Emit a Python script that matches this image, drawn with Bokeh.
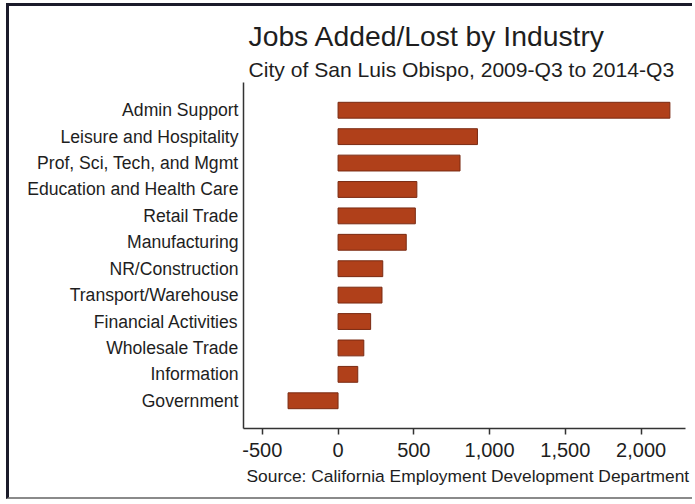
from bokeh.plotting import figure
from bokeh.models import (FactorRange, Range1d, FixedTicker, NumeralTickFormatter,
                          Title, ColumnDataSource)
from bokeh.embed import file_html
from bokeh.resources import INLINE

industries = ["Admin Support", "Leisure and Hospitality", "Prof, Sci, Tech, and Mgmt",
              "Education and Health Care", "Retail Trade", "Manufacturing",
              "NR/Construction", "Transport/Warehouse", "Financial Activities",
              "Wholesale Trade", "Information", "Government"]
jobs = [2190, 920, 805, 520, 510, 450, 295, 290, 215, 170, 130, -330]
x_ticks = [-500, 0, 500, 1000, 1500, 2000]

FONT = "Liberation Sans"
TEXT = "#1e1e1e"
BAR = "#b0401a"

src = ColumnDataSource(dict(industry=industries, jobs=jobs))

# page offsets for the scanned frame border (left 6px margin + 3px border, top 3+3)
OX, OY = 9, 6

p = figure(width=695 - OX, height=504 - OY - 2, output_backend="svg",
           toolbar_location=None,
           y_range=FactorRange(factors=industries[::-1], range_padding=0.55,
                               range_padding_units="absolute"),
           x_range=Range1d(-624, 2293),
           min_border_left=243 - OX, min_border_right=10, min_border_top=82 - OY,
           min_border_bottom=502 - 428,
           styles={"margin-left": "6px", "margin-top": "3px",
                   "border-left": "3px solid #1b1b2a",
                   "border-top": "3px solid #1b1b2a",
                   "border-bottom": "2px solid #8a8a8a"})

p.hbar(y="industry", left=0, right="jobs", height=0.6, source=src,
       fill_color=BAR, line_color="#7a2a12", line_width=1)

sub = Title(text="City of San Luis Obispo, 2009-Q3 to 2014-Q3", align="left",
            offset=5, text_font=FONT, text_font_size="21.1px",
            text_font_style="normal", text_color=TEXT, standoff=4)
main = Title(text="Jobs Added/Lost by Industry", align="left", offset=5,
             text_font=FONT, text_font_size="28.3px", text_font_style="normal",
             text_color=TEXT, standoff=4)
p.add_layout(sub, "above")
p.add_layout(main, "above")

src_title = Title(text="Source: California Employment Development Department",
                  align="left", offset=3, text_font=FONT, text_font_size="17.4px",
                  text_font_style="normal", text_color=TEXT, standoff=8)
p.add_layout(src_title, "below")

p.xgrid.visible = False
p.ygrid.visible = False
p.outline_line_color = None
p.background_fill_color = "white"
p.border_fill_color = "white"

xa = p.xaxis[0]
xa.ticker = FixedTicker(ticks=x_ticks)
xa.formatter = NumeralTickFormatter(format="0,0")
xa.major_tick_in = 0
xa.major_tick_out = 6
xa.minor_tick_line_color = None
xa.axis_line_color = "#333333"
xa.axis_line_width = 1.5
xa.major_tick_line_color = "#333333"
xa.major_tick_line_width = 1.5
xa.major_label_text_font = FONT
xa.major_label_text_font_size = "20px"
xa.major_label_text_color = TEXT
xa.major_label_standoff = 8

ya = p.yaxis[0]
ya.major_tick_in = 0
ya.major_tick_out = 0
ya.minor_tick_line_color = None
ya.axis_line_color = "#333333"
ya.axis_line_width = 1.5
ya.major_label_text_font = FONT
ya.major_label_text_font_size = "17.6px"
ya.major_label_text_color = TEXT
ya.major_label_standoff = 5

open("out.html", "w").write(file_html(p, INLINE))
